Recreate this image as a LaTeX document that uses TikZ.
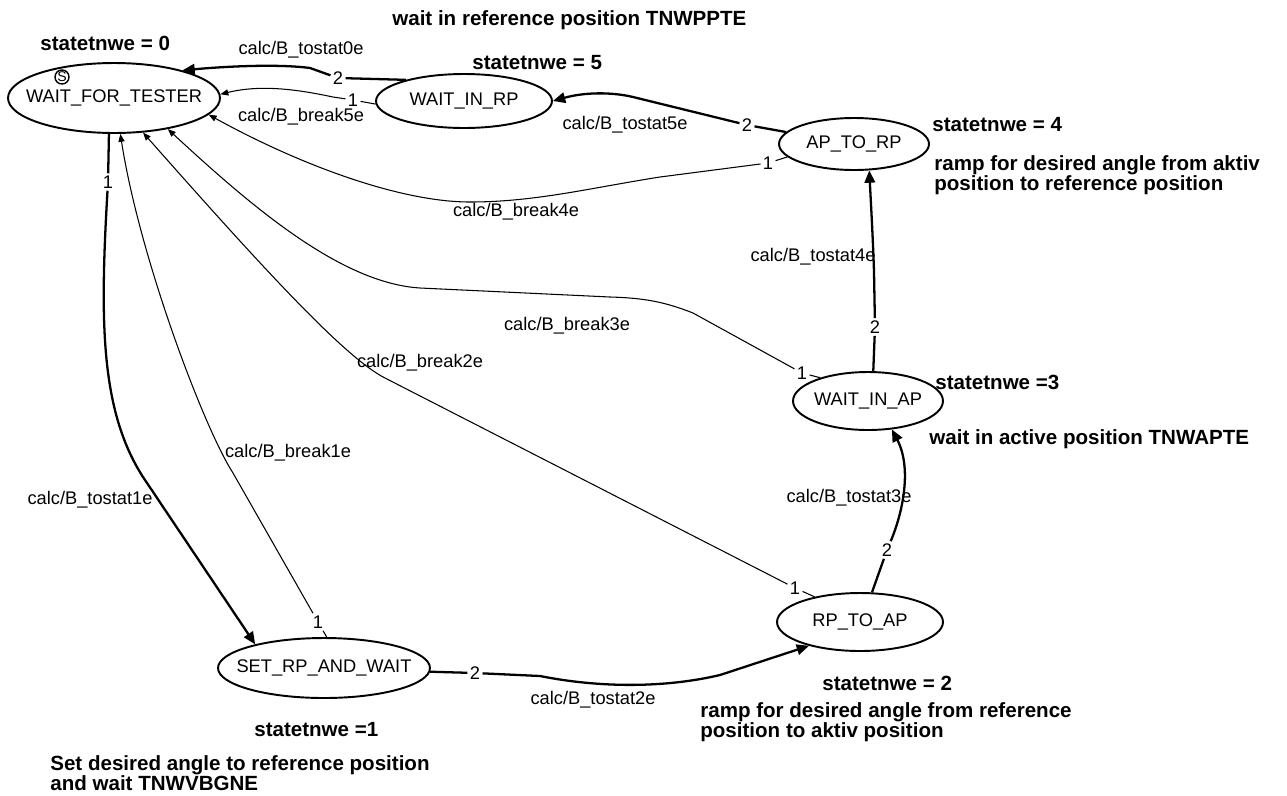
\documentclass[tikz,border=0pt]{standalone}
\usepackage{fontspec}
\setmainfont{Liberation Sans}
\usetikzlibrary{shapes.geometric,arrows.meta}

\newcommand{\stname}[1]{\makebox[0pt]{#1}}

\begin{document}
\begin{tikzpicture}[x=0.02cm,y=-0.02cm,
            every node/.style={font=\fontsize{10.4}{12}\selectfont},
            state/.style={ellipse,draw,line width=1.1pt,inner sep=0pt},
            num/.style={inner sep=1.2pt},
            note/.style={anchor=west,align=left,inner sep=0pt,font=\fontsize{11.7}{11.3}\selectfont\bfseries},
            go/.style={line width=1.3pt,-{Triangle[length=7pt,width=6pt]}},
            brk/.style={line width=0.6pt,-{Triangle[length=4.5pt,width=3.5pt]}}]
            \useasboundingbox (0,0) rectangle (1287,795);
            % states
            \node [state,minimum width=4.24cm,minimum height=1.40cm] (wft) at (114,98) {\stname{WAIT\_FOR\_TESTER}};
            \node [state,minimum width=3.52cm,minimum height=1.08cm] (wrp) at (464,101) {\stname{WAIT\_IN\_RP}};
            \node [state,minimum width=3.00cm,minimum height=1.04cm] (apr) at (854,144) {\stname{AP\_TO\_RP}};
            \node [state,minimum width=3.00cm,minimum height=1.16cm] (wap) at (868,401) {\stname{WAIT\_IN\_AP}};
            \node [state,minimum width=3.32cm,minimum height=1.16cm] (rpa) at (860,622) {\stname{RP\_TO\_AP}};
            \node [state,minimum width=4.24cm,minimum height=1.20cm] (sra) at (324,668) {\stname{SET\_RP\_AND\_WAIT}};
            \node [circle,draw,line width=0.8pt,inner sep=0pt,minimum size=0.28cm,font=\fontsize{8}{8}\selectfont] (init) at (62,77) {S};
            % priorities
            \node [num] (t0) at (338,78) {2};
            \node [num] (b5) at (353,100) {1};
            \node [num] (t5) at (747,125) {2};
            \node [num] (b4) at (768,163) {1};
            \node [num] (t4) at (875,327) {2};
            \node [num] (b3) at (802,373) {1};
            \node [num] (t3) at (887,550) {2};
            \node [num] (b2) at (795,588) {1};
            \node [num] (t2) at (475,673) {2};
            \node [num] (b1) at (318,622) {1};
            \node [num] (t1) at (108,182) {1};
            % transitions
            \draw [go] (wrp.160) -- (t0) -- (310,68) .. controls (280,64) and (230,66) .. (wft.22);
            \draw [brk] (wrp.182) -- (b5) -- (333,97) .. controls (300,90) and (262,84) .. (wft.2);
            \draw [go] (apr.170) -- (t5) -- (633,97) .. controls (612,92) and (585,92) .. (wrp.0);
            \draw [brk] (apr.191) -- (b4) -- (660,177) .. controls (590,188) and (535,202) .. (470,202) .. controls (400,202) and (300,165) .. (wft.-10);
            \draw [go] (wap.80) -- (t4) -- (874,272) .. controls (873,240) and (871,205) .. (apr.-60);
            \draw [brk] (wap.154) -- (b3) -- (693,313) .. controls (665,302) and (645,298) .. (610,297) -- (420,288) .. controls (340,283) and (250,205) .. (wft.-30);
            \draw [go] (rpa.68) -- (t3) .. controls (903,512) and (912,468) .. (wap.-50);
            \draw [brk] (rpa.151) -- (b2) -- (385,378) .. controls (345,358) and (260,265) .. (wft.-50);
            \draw [go] (sra.-2) -- (t2) -- (540,676) .. controls (600,688) and (665,688) .. (720,675) -- (rpa.205);
            \draw [brk] (sra.85) -- (b1) -- (233,473) .. controls (205,430) and (140,260) .. (wft.-80);
            \draw [go] (wft.-98) -- (t1) .. controls (100,320) and (100,410) .. (143,477) -- (sra.161);
            % actions
            \node (l0) at (301,50) {calc/B\_tostat0e};
            \node (l5b) at (301,117) {calc/B\_break5e};
            \node (l5) at (625,125) {calc/B\_tostat5e};
            \node (l4b) at (516,212) {calc/B\_break4e};
            \node (l4) at (813,257) {calc/B\_tostat4e};
            \node (l3b) at (567,326) {calc/B\_break3e};
            \node (l2b) at (420,363) {calc/B\_break2e};
            \node (l1b) at (288,453) {calc/B\_break1e};
            \node (l1) at (90,500) {calc/B\_tostat1e};
            \node (l3) at (849,498) {calc/B\_tostat3e};
            \node (l2) at (593,700) {calc/B\_tostat2e};
            % comments
            \node [note] (n0) at (40,43) {statetnwe = 0};
            \node [note] (d5) at (392,20) {wait in reference position TNWPPTE};
            \node [note] (n5) at (472,63) {statetnwe = 5};
            \node [note] (n4) at (932,125) {statetnwe = 4};
            \node [note] (d4) at (934,175) {ramp for desired angle from aktiv\\position to reference position};
            \node [note] (n3) at (935,382) {statetnwe =3};
            \node [note] (d3) at (929,439) {wait in active position TNWAPTE};
            \node [note] (n2) at (822,683) {statetnwe = 2};
            \node [note] (d2) at (700,722) {ramp for desired angle from reference\\position to aktiv position};
            \node [note] (n1) at (254,730) {statetnwe =1};
            \node [note] (d1) at (50,773) {Set desired angle to reference position\\and wait TNWVBGNE};
\end{tikzpicture}
\end{document}
